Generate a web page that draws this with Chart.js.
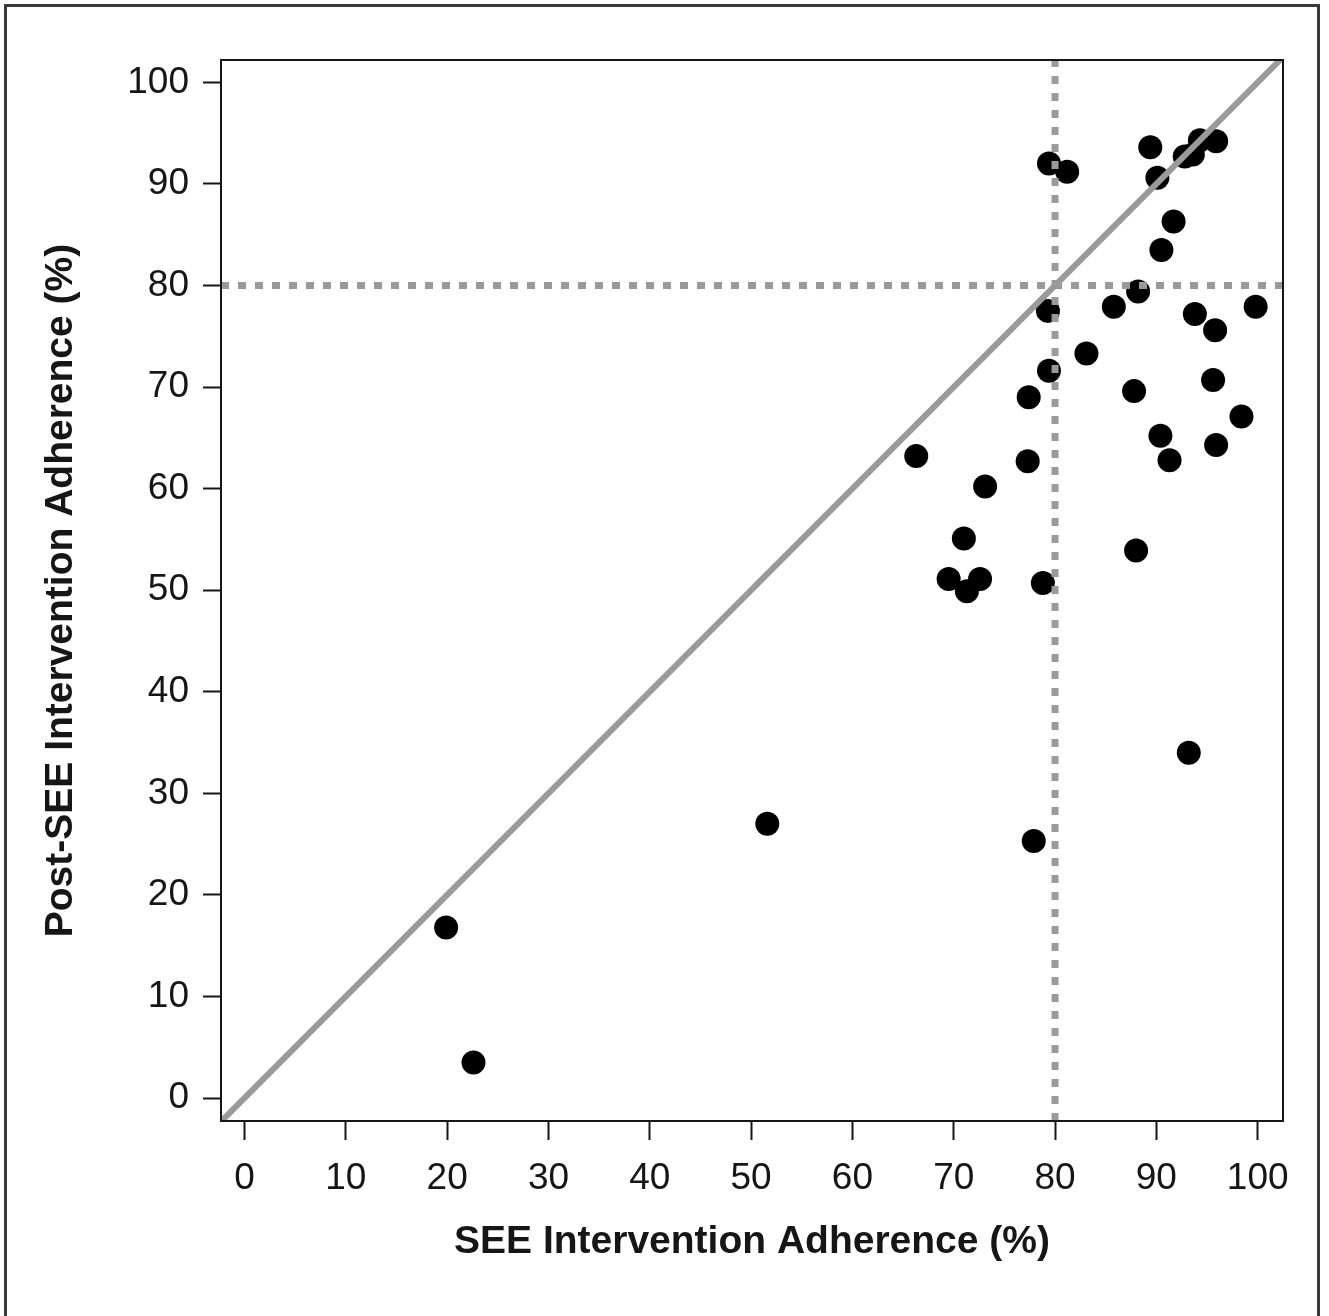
<!DOCTYPE html>
<html>
<head>
<meta charset="utf-8">
<script src="https://cdn.jsdelivr.net/npm/chart.js@4.4.1/dist/chart.umd.min.js"></script>
<style>
  html, body { margin: 0; padding: 0; background: #fff; }
  #wrap { width: 1329px; height: 1316px; position: relative; }
</style>
</head>
<body>
<div id="wrap"><canvas id="adherence" width="1329" height="1316"></canvas></div>
<script>
// DATA

const seeAdherence = [19.9, 22.6, 51.6, 77.9, 93.2, 66.3, 69.5, 71.0, 71.3, 72.6,
  73.1, 77.3, 77.4, 78.8, 79.4, 79.3, 79.4, 81.2, 83.1, 85.8,
  88.2, 87.8, 88.0, 89.4, 90.1, 90.4, 90.5, 91.3, 91.7, 92.8,
  93.6, 94.3, 93.8, 95.8, 95.6, 95.9, 95.9, 98.4, 99.8];
const postAdherence = [16.8, 3.5, 27.0, 25.3, 34.0, 63.2, 51.1, 55.1, 49.9, 51.1,
  60.2, 62.7, 69.0, 50.7, 71.6, 77.5, 92.0, 91.2, 73.3, 77.9,
  79.4, 69.6, 53.9, 93.6, 90.6, 65.2, 83.5, 62.8, 86.3, 92.7,
  92.9, 94.3, 77.2, 75.6, 70.7, 64.3, 94.2, 67.1, 77.9];
const tickValues = [0, 10, 20, 30, 40, 50, 60, 70, 80, 90, 100];
const threshold = 80;
const xLimits = [-2.32, 102.5];
const yLimits = [-2.26, 102.2];

const grey = '#9a9a9a';
const ink = '#161616';
const fontFamily = '"Liberation Sans", Arial, sans-serif';

const points = seeAdherence.map((v, i) => ({ x: v, y: postAdherence[i] }));
const lo = Math.max(xLimits[0], yLimits[0]);
const hi = Math.min(xLimits[1], yLimits[1]);

// frame around the figure (bottom edge runs off the page) and the plot box
const frames = {
  id: 'frames',
  afterDraw(chart) {
    const c = chart.ctx;
    const a = chart.chartArea;
    c.save();
    c.strokeStyle = '#3a3a3a';
    c.lineWidth = 3;
    c.strokeRect(5.5, 5.5, 1313, 1330);
    c.strokeStyle = ink;
    c.lineWidth = 2;
    c.strokeRect(a.left, a.top, a.right - a.left, a.bottom - a.top);
    c.restore();
  }
};

const keepTicks = (scale) => {
  scale.ticks = tickValues.map(v => ({ value: v }));
};

const ctx = document.getElementById('adherence');
const chart = new Chart(ctx, {
  type: 'scatter',
  data: {
    datasets: [
      {
        // y = x line
        type: 'line',
        data: [{ x: lo - 1, y: lo - 1 }, { x: hi + 1, y: hi + 1 }],
        borderColor: grey,
        borderWidth: 6,
        pointRadius: 0,
        order: 1
      },
      {
        type: 'line',
        data: [{ x: threshold, y: yLimits[0] }, { x: threshold, y: yLimits[1] }],
        borderColor: grey,
        borderWidth: 7,
        borderDash: [8, 9],
        pointRadius: 0,
        order: 2
      },
      {
        type: 'line',
        data: [{ x: xLimits[0], y: threshold }, { x: xLimits[1], y: threshold }],
        borderColor: grey,
        borderWidth: 7,
        borderDash: [8, 9],
        pointRadius: 0,
        order: 3
      },
      {
        data: points,
        backgroundColor: '#000',
        borderWidth: 0,
        pointRadius: 12,
        pointHoverRadius: 12,
        order: 4
      }
    ]
  },
  options: {
    responsive: false,
    animation: false,
    layout: { padding: { top: 60, right: 46, left: 38, bottom: 50 } },
    plugins: {
      legend: { display: false },
      tooltip: { enabled: false }
    },
    scales: {
      x: {
        type: 'linear',
        min: xLimits[0],
        max: xLimits[1],
        afterBuildTicks: keepTicks,
        afterFit: (s) => { s.height = 145; },
        border: { display: true, color: ink, width: 2 },
        grid: { drawOnChartArea: false, drawTicks: true, tickLength: 19, tickWidth: 2, tickColor: ink },
        ticks: { color: ink, padding: 17, maxRotation: 0, font: { family: fontFamily, size: 37 } },
        title: {
          display: true,
          text: 'SEE Intervention Adherence (%)',
          color: ink,
          padding: 0,
          font: { family: fontFamily, size: 39, weight: 'bold' }
        }
      },
      y: {
        type: 'linear',
        min: yLimits[0],
        max: yLimits[1],
        afterBuildTicks: keepTicks,
        afterFit: (s) => { s.width = 183; },
        border: { display: true, color: ink, width: 2 },
        grid: { drawOnChartArea: false, drawTicks: true, tickLength: 18, tickWidth: 2, tickColor: ink },
        ticks: { color: ink, padding: 14, font: { family: fontFamily, size: 37 } },
        title: {
          display: true,
          text: 'Post-SEE Intervention Adherence (%)',
          color: ink,
          padding: 0,
          font: { family: fontFamily, size: 39, weight: 'bold' }
        }
      }
    }
  },
  plugins: [frames]
});
</script>
</body>
</html>
